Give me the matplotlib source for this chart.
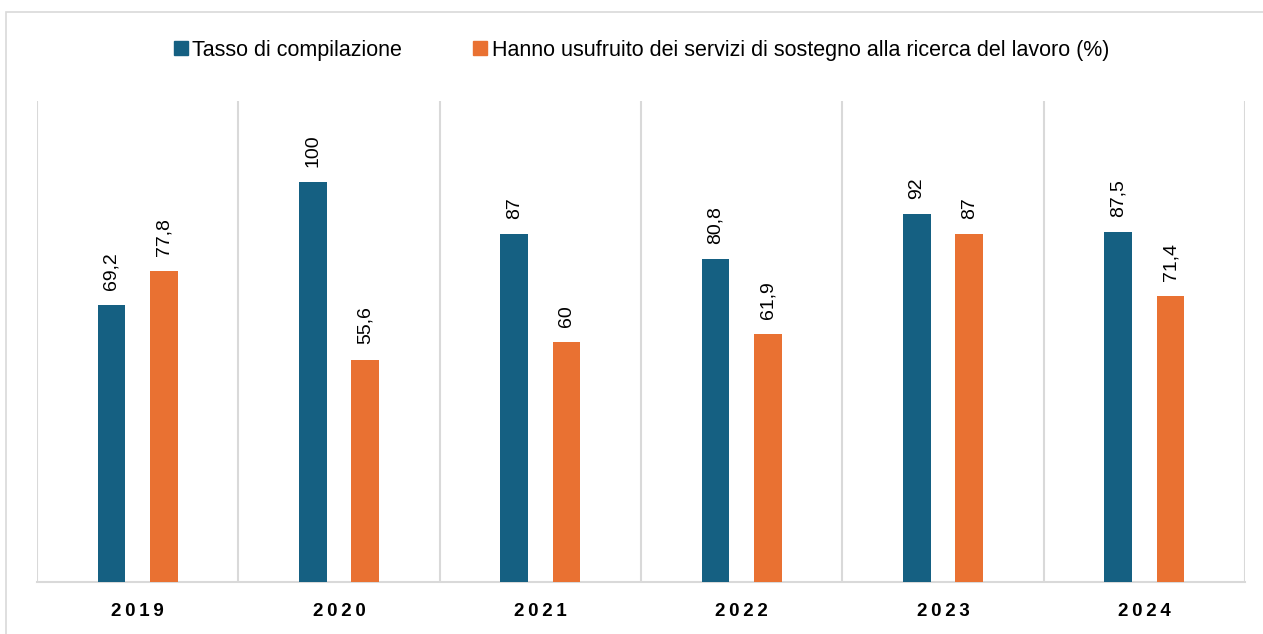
#!/usr/bin/env python3
"""Tasso di compilazione vs servizi di sostegno alla ricerca del lavoro, 2019-2024"""
import numpy as np
import matplotlib
matplotlib.use("Agg")
import matplotlib.pyplot as plt
from matplotlib.patches import Patch, Rectangle

plt.rcParams["font.family"] = ["Liberation Sans", "DejaVu Sans"]

YEARS = ["2019", "2020", "2021", "2022", "2023", "2024"]
TASSO = [69.2, 100, 87, 80.8, 92, 87.5]
SERVIZI = [77.8, 55.6, 60, 61.9, 87, 71.4]
SERIES_NAMES = ["Tasso di compilazione",
                "Hanno usufruito dei servizi di sostegno alla ricerca del lavoro (%)"]

BLUE = "#156082"
ORANGE = "#E97132"
GRID = "#D9D9D9"


def fmt(v):
    # virgola decimale all'italiana
    s = f"{v:g}"
    return s.replace(".", ",")


fig = plt.figure(figsize=(12.63, 6.34), dpi=100, facecolor="white")

# cornice esterna del grafico
fig.patches.append(Rectangle((6 / 1263, -0.05), 1.2, 1 - 12 / 634 + 0.05,
                             transform=fig.transFigure, fill=False,
                             edgecolor=GRID, linewidth=1.2, zorder=0))

ax = fig.add_axes([37 / 1263, 1 - 582 / 634, (1245 - 37) / 1263, (582 - 101) / 634])

x = np.arange(len(YEARS))
w = 0.139
off = 0.13
b1 = ax.bar(x - off, TASSO, width=w, color=BLUE, zorder=3)
b2 = ax.bar(x + off, SERVIZI, width=w, color=ORANGE, zorder=3)

for bars, vals in ((b1, TASSO), (b2, SERVIZI)):
    for r, v in zip(bars, vals):
        ax.annotate(fmt(v), (r.get_x() + r.get_width() / 2, r.get_height()),
                    xytext=(0, 11), textcoords="offset points",
                    rotation=90, ha="center", va="bottom", fontsize=14)

ax.set_xlim(-0.5, len(YEARS) - 0.5)
ax.set_ylim(0, 120.25)

# separatori verticali tra categorie
for b in np.arange(-0.5, len(YEARS), 1.0):
    ax.axvline(b, color=GRID, linewidth=1.5, zorder=1)

for s in ("top", "left", "right"):
    ax.spines[s].set_visible(False)
ax.spines["bottom"].set_color(GRID)
ax.spines["bottom"].set_linewidth(1.5)
ax.set_yticks([])
ax.set_xticks(x)
# anni spaziati come nell'originale
ax.set_xticklabels(["\u2009".join(y) for y in YEARS], fontsize=13.5, fontweight="bold")
ax.tick_params(axis="x", length=0, pad=15)

handles = [Patch(color=BLUE), Patch(color=ORANGE)]
fig.legend(handles, SERIES_NAMES, loc="center", bbox_to_anchor=(0.508, 0.921),
           ncol=2, frameon=False, fontsize=15.5, handlelength=0.65, handleheight=0.65,
           handletextpad=0.23, columnspacing=3.3)

plt.savefig("out.png", dpi=100, facecolor=fig.get_facecolor())
plt.close()
